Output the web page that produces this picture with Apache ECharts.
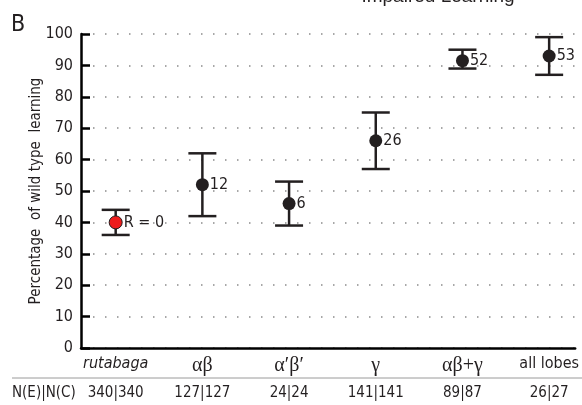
<!DOCTYPE html>
<html><head><meta charset="utf-8">
<script src="https://cdn.jsdelivr.net/npm/echarts@6/dist/echarts.min.js"></script>
<style>html,body{margin:0;padding:0;background:#fff}#c{width:582px;height:405px}</style>
</head><body><div id="c"></div>
<script>
const categories = ['rutabaga', 'αβ', 'α′β′', 'γ', 'αβ+γ', 'all lobes'];
const categoryStyle = ['it', 'gr', 'gr', 'gr', 'gr', 'sn'];
const means = [40, 52, 46, 66, 91.5, 93];
const lower = [36, 42, 39, 57, 89, 87];
const upper = [44, 62, 53, 75, 95, 99];
const pointLabels = ['R = 0', '12', '6', '26', '52', '53'];
const nCounts = ['340|340', '127|127', '24|24', '141|141', '89|87', '26|27'];
const yTicks = [0, 10, 20, 30, 40, 50, 60, 70, 80, 90, 100];
const yTitle = 'Percentage  of wild type  learning';
const panelTitle = 'Impaired Learning';
const panelLetter = 'B';
const nHeader = 'N(E)|N(C)';

const NARROW = '"Liberation Sans Narrow", "DejaVu Sans Condensed", Arial, sans-serif';
const SANS = '"Liberation Sans", Arial, sans-serif';
const SERIF = '"Liberation Serif", "DejaVu Serif", serif';
const INK = '#231f20';
const idx = categories.map((c, i) => i);

const chart = echarts.init(document.getElementById('c'), null, {renderer: 'canvas'});
const option = {
  animation: false,
  backgroundColor: '#fff',
  grid: {left: 81, right: 0, top: 34, bottom: 57, containLabel: false},
  graphic: [
    {type: 'text', left: 11, top: 14, style: {text: panelLetter, font: '23px ' + NARROW, fill: INK}},
    {type: 'text', x: 438, y: 6, style: {text: panelTitle, font: '19px ' + SANS, fill: INK, align: 'center', verticalAlign: 'bottom'}},
    {type: 'line', shape: {x1: 12, y1: 378, x2: 582, y2: 378}, style: {stroke: '#9a9a9a', lineWidth: 1}},
    {type: 'text', x: 12, y: 393, style: {text: nHeader, font: '15px ' + NARROW, fill: INK, verticalAlign: 'middle'}}
  ],
  xAxis: [
    {
      type: 'value', min: -0.4, max: 5.3, position: 'bottom',
      axisLine: {show: true, onZero: false, lineStyle: {color: '#000', width: 2.5}},
      axisTick: {show: false},
      splitLine: {show: false},
      axisLabel: {
        customValues: idx, margin: 8,
        formatter: v => { const i = Math.round(v); return '{' + categoryStyle[i] + '|' + categories[i] + '}'; },
        rich: {
          it: {fontFamily: NARROW, fontStyle: 'italic', fontSize: 16, color: INK},
          gr: {fontFamily: SERIF, fontSize: 20, color: INK},
          sn: {fontFamily: NARROW, fontSize: 16, color: INK}
        }
      }
    },
    {
      type: 'value', min: -0.4, max: 5.3, position: 'bottom', offset: 30,
      axisLine: {show: false, onZero: false}, axisTick: {show: false}, splitLine: {show: false},
      axisLabel: {
        customValues: idx, margin: 8,
        formatter: v => nCounts[Math.round(v)],
        fontFamily: NARROW, fontSize: 15, color: INK
      }
    }
  ],
  yAxis: {
    type: 'value', min: yTicks[0], max: yTicks[yTicks.length - 1], interval: yTicks[1] - yTicks[0],
    name: yTitle, nameLocation: 'middle', nameGap: 37, nameMoveOverlap: false,
    nameTextStyle: {fontFamily: NARROW, fontSize: 15, color: INK},
    axisLine: {show: true, onZero: false, lineStyle: {color: '#000', width: 2.5}},
    axisTick: {show: true, inside: true, length: 9, lineStyle: {color: '#000', width: 2.5}},
    axisLabel: {margin: 8, fontFamily: NARROW, fontSize: 16, color: INK},
    splitLine: {show: true, lineStyle: {color: '#8a8a8a', width: 1.5, type: [1.5, 10.5]}}
  },
  series: [
    {
      type: 'custom', xAxisIndex: 0, z: 2,
      data: idx.map(i => [i, lower[i], upper[i]]),
      renderItem: (params, api) => {
        const x = api.value(0);
        const lo = api.coord([x, api.value(1)]);
        const hi = api.coord([x, api.value(2)]);
        const hw = 14;
        const st = {stroke: INK, lineWidth: 2.5};
        return {type: 'group', children: [
          {type: 'line', shape: {x1: lo[0], y1: lo[1], x2: hi[0], y2: hi[1]}, style: st},
          {type: 'line', shape: {x1: lo[0] - hw, y1: lo[1], x2: lo[0] + hw, y2: lo[1]}, style: st},
          {type: 'line', shape: {x1: hi[0] - hw, y1: hi[1], x2: hi[0] + hw, y2: hi[1]}, style: st}
        ]};
      }
    },
    {
      type: 'scatter', xAxisIndex: 0, z: 5, symbol: 'circle', symbolSize: 13,
      itemStyle: {opacity: 1},
      data: idx.map(i => ({
        value: [i, means[i]],
        itemStyle: i === 0 ? {color: '#ee1c1c', borderColor: INK, borderWidth: 1, opacity: 1} : {color: INK, opacity: 1}
      })),
      label: {
        show: true, position: 'right', distance: 1,
        formatter: p => pointLabels[p.dataIndex],
        fontFamily: NARROW, fontSize: 16, color: INK
      }
    }
  ]
};
chart.setOption(option);
</script></body></html>
